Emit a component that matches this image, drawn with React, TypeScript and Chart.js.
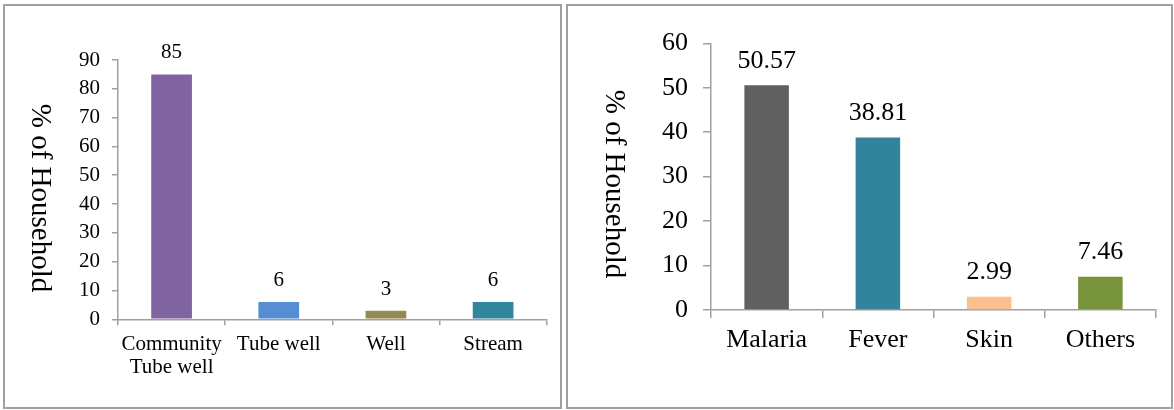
import React, { useEffect, useRef } from "react";
import { Chart, registerables } from "chart.js";

Chart.register(...registerables);

const leftCategories: (string | string[])[] = [["Community", "Tube well"], "Tube well", "Well", "Stream"];
const leftValues = [85, 6, 3, 6];
const leftColors = ["#8064A2", "#558ED5", "#948A54", "#31859C"];
const leftLabels = ["85", "6", "3", "6"];

const rightCategories = ["Malaria", "Fever", "Skin", "Others"];
const rightValues = [50.57, 38.81, 2.99, 7.46];
const rightColors = ["#606060", "#31849B", "#FAC090", "#77933C"];
const rightLabels = ["50.57", "38.81", "2.99", "7.46"];

const yTitle = "% of Household";
const FONT = "'Liberation Serif', 'Times New Roman', serif";
const AXIS = "#a0a0a0";

type Cfg = {
  categories: (string | string[])[];
  values: number[];
  colors: string[];
  labels: string[];
  max: number;
  step: number;
  fontSize: number;
  titleSize: number;
  tickLen: number;
  tickPad: number;
  xPad: number;
  yWidth: number;
  xHeight: number;
  padTop: number;
  padRight: number;
  barPct: number;
  labelOffset: number;
  titleX: number;
  titleY: number;
  lineHeight: number;
};

function makeChart(canvas: HTMLCanvasElement, c: Cfg) {
  const labelPlugin = {
    id: "valueLabels",
    afterDatasetsDraw(chart: any) {
      const ctx = chart.ctx;
      const meta = chart.getDatasetMeta(0);
      ctx.save();
      ctx.font = `${c.fontSize}px ${FONT}`;
      ctx.fillStyle = "#000";
      ctx.textAlign = "center";
      ctx.textBaseline = "alphabetic";
      meta.data.forEach((bar: any, i: number) => {
        ctx.fillText(c.labels[i], bar.x, bar.y - c.labelOffset);
      });
      ctx.restore();
    },
  };
  const titlePlugin = {
    id: "rotTitle",
    afterDraw(chart: any) {
      const ctx = chart.ctx;
      ctx.save();
      ctx.translate(c.titleX, c.titleY);
      ctx.rotate(Math.PI / 2);
      ctx.font = `${c.titleSize}px ${FONT}`;
      ctx.fillStyle = "#000";
      ctx.textAlign = "center";
      ctx.textBaseline = "middle";
      ctx.fillText(yTitle, 0, 0);
      ctx.restore();
    },
  };
  return new Chart(canvas, {
    type: "bar",
    data: {
      labels: c.categories as any,
      datasets: [
        {
          data: c.values,
          backgroundColor: c.colors,
          borderWidth: 0,
          barPercentage: c.barPct,
          categoryPercentage: 1,
        },
      ],
    },
    options: {
      responsive: false,
      animation: false,
      devicePixelRatio: 1,
      layout: { padding: { top: c.padTop, right: c.padRight, left: 0, bottom: 0 } },
      plugins: { legend: { display: false }, tooltip: { enabled: false }, title: { display: false } },
      scales: {
        x: {
          grid: {
            offset: true,
            drawOnChartArea: false,
            drawTicks: true,
            tickLength: c.tickLen,
            color: AXIS,
            lineWidth: 1.5,
          },
          border: { display: true, color: AXIS, width: 1.5 },
          ticks: {
            color: "#000",
            padding: c.xPad,
            maxRotation: 0,
            autoSkip: false,
            font: { family: FONT, size: c.fontSize, lineHeight: c.lineHeight },
          },
          afterFit(scale: any) {
            scale.height = c.xHeight;
          },
        },
        y: {
          min: 0,
          max: c.max,
          grid: {
            drawOnChartArea: false,
            drawTicks: true,
            tickLength: c.tickLen,
            color: AXIS,
            lineWidth: 1.5,
          },
          border: { display: true, color: AXIS, width: 1.5 },
          ticks: {
            stepSize: c.step,
            color: "#000",
            padding: c.tickPad,
            font: { family: FONT, size: c.fontSize },
          },
          afterFit(scale: any) {
            scale.width = c.yWidth;
          },
        },
      },
    },
    plugins: [labelPlugin, titlePlugin],
  });
}

export default function App() {
  const leftRef = useRef<HTMLCanvasElement>(null);
  const rightRef = useRef<HTMLCanvasElement>(null);

  useEffect(() => {
    const a = makeChart(leftRef.current!, {
      categories: leftCategories,
      values: leftValues,
      colors: leftColors,
      labels: leftLabels,
      max: 90,
      step: 10,
      fontSize: 21,
      titleSize: 29,
      tickLen: 6,
      tickPad: 12,
      xPad: 8,
      yWidth: 118,
      xHeight: 90.7,
      padTop: 60,
      padRight: 17.3,
      barPct: 0.38,
      labelOffset: 16,
      titleX: 40,
      titleY: 198,
      lineHeight: 1.1,
    });
    const b = makeChart(rightRef.current!, {
      categories: rightCategories,
      values: rightValues,
      colors: rightColors,
      labels: rightLabels,
      max: 60,
      step: 10,
      fontSize: 26,
      titleSize: 29,
      tickLen: 8,
      tickPad: 15,
      xPad: 7,
      yWidth: 147,
      xHeight: 100,
      padTop: 43.3,
      padRight: 18,
      barPct: 0.4,
      labelOffset: 17.5,
      titleX: 50,
      titleY: 184,
      lineHeight: 1.2,
    });
    return () => {
      a.destroy();
      b.destroy();
    };
  }, []);

  return (
    <div style={{ position: "absolute", left: 0, top: 0, width: 1174, height: 410, background: "#fff" }}>
      <canvas
        ref={leftRef}
        width={564}
        height={410}
        style={{ position: "absolute", left: 0, top: 0, width: 564, height: 410 }}
      />
      <canvas
        ref={rightRef}
        width={610}
        height={410}
        style={{ position: "absolute", left: 564, top: 0, width: 610, height: 410 }}
      />
      <div
        style={{
          position: "absolute",
          left: 3,
          top: 4,
          width: 555,
          height: 401,
          border: "2px solid #a0a0a0",
          pointerEvents: "none",
        }}
      />
      <div
        style={{
          position: "absolute",
          left: 566,
          top: 4,
          width: 603,
          height: 401,
          border: "2px solid #a0a0a0",
          pointerEvents: "none",
        }}
      />
    </div>
  );
}
